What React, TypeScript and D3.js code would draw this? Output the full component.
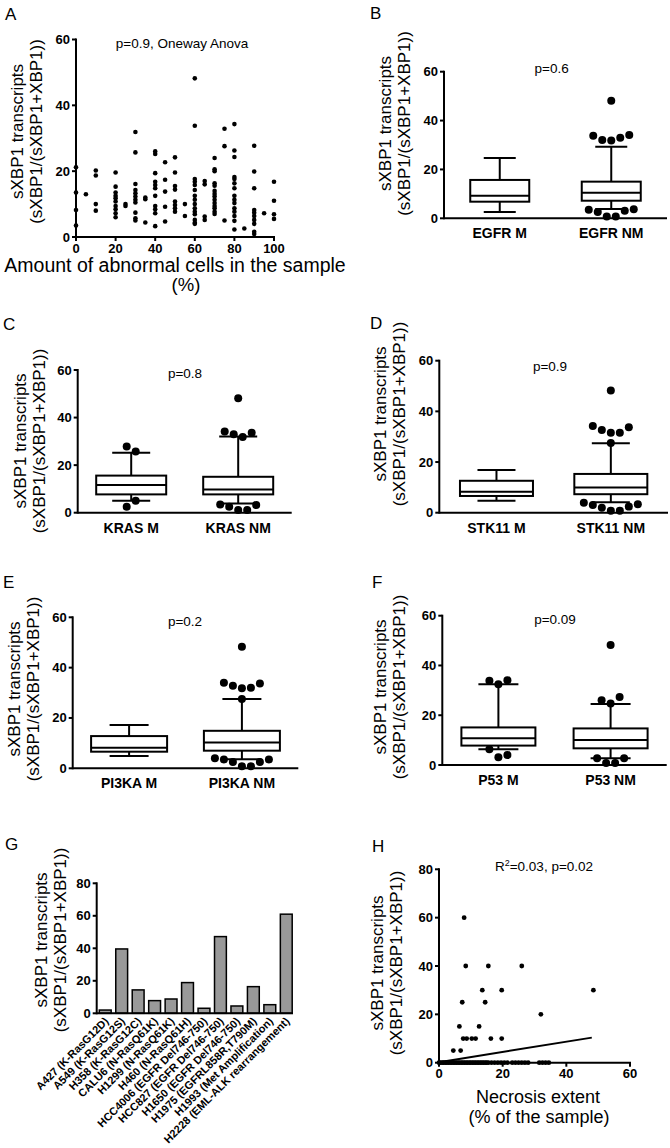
import React from 'react';
import * as d3 from 'd3';

const FONT = "'Liberation Sans', Arial, Helvetica, sans-serif";

// ---------- Panel A: sXBP1 vs amount of abnormal cells ----------
const abnormalPct = [0, 5, 10, 20, 25, 30, 35, 40, 45, 50, 55, 60, 65, 70, 75, 80, 85, 90, 95, 100];
const abnormalSxbp1 = [
  [21.2, 13.5, 8.2, 3.5],
  [13],
  [20.2, 18.7, 10, 8],
  [19.6, 15.3, 13.5, 12.5, 11.8, 10.8, 9.4, 8.4, 7.2, 6],
  [10, 9.4],
  [31.9, 25.7, 16.1, 14.3, 13.3, 12.3, 11.3, 10.5, 7.4, 5.7, 5],
  [12, 11.5, 4.4],
  [26, 25.2, 19.4, 16.8, 15.8, 14.8, 12.5, 9.4, 8.4, 7.2, 3.3],
  [22.7, 17.4, 13.8, 9.2, 4.7],
  [24.2, 19.6, 15.5, 14.4, 10.8, 9.7, 8.7, 7.7],
  [10, 6.4],
  [48.2, 33.8, 17.6, 16.8, 15.8, 14.3, 12.5, 11.3, 10, 8.7, 7.7, 6.9, 5.2, 4.3, 4],
  [17, 16, 6.2, 5.2],
  [24, 20.6, 20, 16.3, 15.6, 14, 13.1, 12.3, 11.3, 10.3, 9.4, 8.7, 7.7, 7],
  [32.9, 27.6, 5],
  [34.3, 26.3, 24.3, 18.2, 17.6, 16.3, 14.8, 12.5, 11.3, 10.3, 8.7, 7.7, 6.4, 4.9, 2.3],
  [2.6],
  [27.7, 19.9, 14.8, 8.2, 7.4, 6.4, 5.2, 4, 1.6, 0.9],
  [7.2],
  [16.8, 11, 6.9, 5.5],
];
const pctTicks = [0, 20, 40, 60, 80, 100];
const sxTicks60 = [0, 20, 40, 60];

// ---------- Box plot panels (B-F) ----------
type Box = { min: number; q1: number; med: number; q3: number; max: number; hi: number[][]; lo: number[][] };

const egfrCats = ['EGFR M', 'EGFR NM'];
const egfrStats: Box[] = [
  { min: 2.6, q1: 6.8, med: 9.2, q3: 15.7, max: 24.7, hi: [], lo: [] },
  { min: 3.8, q1: 7.2, med: 10.5, q3: 15, max: 29.3, hi: [[48.1], [33.8, 32, 31.8, 33, 34.1]], lo: [[3.5, 2.6, 0.7, 0.7, 3.1, 3.7]] },
];
const krasCats = ['KRAS M', 'KRAS NM'];
const krasStats: Box[] = [
  { min: 5, q1: 7.7, med: 11.6, q3: 15.6, max: 25.2, hi: [[27.8, 25.7]], lo: [[2.5, 5]] },
  { min: 3.9, q1: 7.7, med: 9.8, q3: 15.1, max: 32, hi: [[48.1], [34.1, 33, 31.8, 33.6]], lo: [[3.5, 2.5, 1.1, 1.1, 3.2]] },
];
const stk11Cats = ['STK11 M', 'STK11 NM'];
const stk11Stats: Box[] = [
  { min: 4.7, q1: 6.6, med: 8.3, q3: 12.6, max: 16.9, hi: [], lo: [] },
  { min: 4.1, q1: 7.3, med: 9.9, q3: 15.3, max: 27.4, hi: [[48.2], [34.2, 32.6, 31.6, 31.6, 33.7], [27.5]], lo: [[3.9, 3, 2, 0.8, 0.8, 2.4, 3.3]] },
];
const pi3kaCats = ['PI3KA M', 'PI3KA NM'];
const pi3kaStats: Box[] = [
  { min: 4.9, q1: 6.6, med: 8.2, q3: 12.8, max: 17.2, hi: [], lo: [] },
  { min: 3.6, q1: 7, med: 10.3, q3: 14.9, max: 27.5, hi: [[48.3], [34, 32.8, 31.8, 32, 33.7], [27.5]], lo: [[4, 3.5, 2.5, 0.8, 0.8, 2.5, 3.5]] },
];
const p53Cats = ['P53 M', 'P53 NM'];
const p53Stats: Box[] = [
  { min: 6.3, q1: 7.8, med: 10.7, q3: 15.1, max: 32.5, hi: [[33.9, 32.5, 34.1]], lo: [[6.3, 3.1, 4]] },
  { min: 2.7, q1: 6.7, med: 10, q3: 14.7, max: 24.5, hi: [[48.2], [26, 24.7, 27.3]], lo: [[2.7, 0.8, 0.8, 2.7]] },
];

// ---------- Panel G: cell lines ----------
const cellLines = [
  'A427 (K-RasG12D)', 'A549 (K-RasG12S)', 'H358 (K-RasG12C)', 'CALU6 (N-RasQ61K)',
  'H1299 (N-RasQ61K)', 'H460 (N-RasQ61H)', 'HCC4006 (EGFR Del746-750)', 'HCC827 (EGFR Del746-750)',
  'H1650 (EGFR Del746-750)', 'H1975 (EGFRL858R,T790M)', 'H1993 (Met Amplification)', 'H2228 (EML-ALK rearrangement)',
];
const cellLineValues = [2, 39.6, 14.4, 7.8, 8.8, 18.9, 3.1, 47.2, 4.5, 16.4, 5.3, 61];
const sxTicks80 = [0, 20, 40, 60, 80];

// ---------- Panel H: necrosis ----------
const necrosisX = [
  48.5, 32, 26, 15.5, 8.4, 7.9, 13.6, 19.7, 7.3, 14.5, 6.4, 12.6, 7.6, 8.7, 10.3, 11.5, 16.3, 19.7, 4.5, 6.8,
  0, 0.5, 1, 1.5, 2, 2.5, 3, 3.5, 4, 4.5, 5, 5.5, 6, 6.5, 7, 7.5, 8, 8.5, 9, 9.5, 10, 10.5, 11, 11.5, 12, 12.5,
  13, 13.5, 14, 14.5, 15, 15.5, 16.5, 17.5, 18.5, 19.5, 20.5, 21.5, 23, 24, 25, 26, 27, 28, 31.5, 32.5, 33.5, 34.5,
];
const necrosisY = [
  30, 20, 40, 40, 40, 60, 30, 30, 25, 25, 15, 15, 10, 10, 10, 10, 10, 10, 5, 5,
  0, 0, 0, 0, 0, 0, 0, 0, 0, 0, 0, 0, 0, 0, 0, 0, 0, 0, 0, 0, 0, 0, 0, 0, 0, 0,
  0, 0, 0, 0, 0, 0, 0, 0, 0, 0, 0, 0, 0, 0, 0, 0, 0, 0, 0, 0, 0, 0,
];
const fitIntercept = 0.2;
const fitSlope = 0.212;
const fitXRange = [0, 48];
const necrosisTicks = [0, 20, 40, 60];

// ---------- helpers ----------
function YAxis({ x, scale, ticks, bottom }: any) {
  const top = scale(ticks[ticks.length - 1]) - 1;
  return (
    <g>
      <line x1={x} x2={x} y1={top} y2={bottom} stroke="#000" strokeWidth={2} />
      {ticks.map((t: number) => (
        <g key={t}>
          <line x1={x - 4} x2={x} y1={scale(t)} y2={scale(t)} stroke="#000" strokeWidth={2} />
          <text x={x - 6} y={scale(t) + 4.5} textAnchor="end" fontWeight="bold" fontSize={13}>{t}</text>
        </g>
      ))}
    </g>
  );
}

function YTitle({ x1, x2, cy }: any) {
  return (
    <g fontSize={17}>
      <text transform={`translate(${x1 + 4.3},${cy}) rotate(-90)`} textAnchor="middle">sXBP1 transcripts</text>
      <text transform={`translate(${x2 + 4.3},${cy}) rotate(-90)`} textAnchor="middle">(sXBP1/(sXBP1+XBP1))</text>
    </g>
  );
}

function PanelLabel({ t, x, y }: any) {
  return <text x={x} y={y} fontSize={17}>{t}</text>;
}

function BoxPanel({ lay, cats, stats }: any) {
  const y = d3.scaleLinear().domain([0, 60]).range([lay.y0, lay.yTop]);
  const x = d3.scaleBand().domain(cats).range([lay.axX, lay.axR]);
  const bw = lay.boxW;
  const cw = lay.capW;
  return (
    <g>
      <PanelLabel t={lay.label} x={lay.lx} y={lay.ly} />
      <YTitle x1={lay.t1x} x2={lay.t1x + 19} cy={lay.tcy} />
      <text x={lay.px} y={lay.py} textAnchor="middle" fontSize={13.5}>{lay.p}</text>
      <YAxis x={lay.axX} scale={y} ticks={sxTicks60} bottom={lay.y0 + 1} />
      <line x1={lay.axX} x2={lay.axR} y1={lay.y0} y2={lay.y0} stroke="#000" strokeWidth={2} />
      {stats.map((s: Box, i: number) => {
        const cx = (x(cats[i]) as number) + x.bandwidth() / 2;
        return (
          <g key={i}>
            <line x1={cx} x2={cx} y1={y(s.max)} y2={y(s.q3)} stroke="#000" strokeWidth={2} />
            <line x1={cx} x2={cx} y1={y(s.q1)} y2={y(s.min)} stroke="#000" strokeWidth={2} />
            <line x1={cx - cw / 2} x2={cx + cw / 2} y1={y(s.max)} y2={y(s.max)} stroke="#000" strokeWidth={2} />
            <line x1={cx - cw / 2} x2={cx + cw / 2} y1={y(s.min)} y2={y(s.min)} stroke="#000" strokeWidth={2} />
            <rect x={cx - bw / 2} y={y(s.q3)} width={bw} height={y(s.q1) - y(s.q3)} fill="#fff" stroke="#000" strokeWidth={2} />
            <line x1={cx - bw / 2} x2={cx + bw / 2} y1={y(s.med)} y2={y(s.med)} stroke="#000" strokeWidth={2} />
            {[...s.hi, ...s.lo].map((row, r) =>
              row.map((v, j) => (
                <circle key={`${r}-${j}`} cx={cx + (j - (row.length - 1) / 2) * 9} cy={y(v)} r={4} fill="#000" />
              ))
            )}
            <text x={cx} y={lay.y0 + 20} textAnchor="middle" fontWeight="bold" fontSize={14}>{cats[i]}</text>
          </g>
        );
      })}
    </g>
  );
}

const layB = { label: 'B', lx: 370, ly: 18.5, axX: 444, axR: 667, y0: 218.3, yTop: 71.7, t1x: 386.5, tcy: 123.5, p: 'p=0.6', px: 551.7, py: 73, boxW: 59, capW: 32 };
const layC = { label: 'C', lx: 3, ly: 330, axX: 77.7, axR: 291.7, y0: 512.7, yTop: 370, t1x: 22, tcy: 441, p: 'p=0.8', px: 185, py: 378, boxW: 70, capW: 38 };
const layD = { label: 'D', lx: 370, ly: 329, axX: 439.3, axR: 668, y0: 512.7, yTop: 360.7, t1x: 381.5, tcy: 414, p: 'p=0.9', px: 550, py: 371, boxW: 73, capW: 38 };
const layE = { label: 'E', lx: 3, ly: 588, axX: 72.7, axR: 298.3, y0: 768.3, yTop: 617.3, t1x: 16, tcy: 689, p: 'p=0.2', px: 185, py: 625.5, boxW: 76, capW: 39 };
const layF = { label: 'F', lx: 372, ly: 588, axX: 442.3, axR: 666.7, y0: 765, yTop: 615.7, t1x: 381.5, tcy: 687, p: 'p=0.09', px: 555, py: 624, boxW: 74, capW: 40 };

function PanelA() {
  const x = d3.scaleLinear().domain([0, 100]).range([76, 274]);
  const y = d3.scaleLinear().domain([0, 60]).range([237, 39.5]);
  return (
    <g>
      <PanelLabel t="A" x={5} y={20} />
      <YTitle x1={18.5} x2={37.5} cy={131.5} />
      <text x={182} y={47.8} textAnchor="middle" fontSize={13.5}>p=0.9, Oneway Anova</text>
      <YAxis x={76} scale={y} ticks={sxTicks60} bottom={238} />
      <line x1={76} x2={275} y1={237} y2={237} stroke="#000" strokeWidth={2} />
      {pctTicks.map((t) => (
        <g key={t}>
          <line x1={x(t)} x2={x(t)} y1={237} y2={241} stroke="#000" strokeWidth={2} />
          <text x={x(t)} y={252.5} textAnchor="middle" fontWeight="bold" fontSize={13}>{t}</text>
        </g>
      ))}
      {abnormalPct.map((p, i) =>
        abnormalSxbp1[i].map((v, j) => <circle key={`${i}-${j}`} cx={x(p)} cy={y(v)} r={2.3} fill="#000" />)
      )}
      <text x={175} y={271.5} textAnchor="middle" fontSize={19.5}>Amount of abnormal cells in the sample</text>
      <text x={186} y={291} textAnchor="middle" fontSize={18.5}>(%)</text>
    </g>
  );
}

function PanelG() {
  const x = d3.scaleBand().domain(cellLines).range([97, 294.5]).paddingInner(0.28).paddingOuter(0.14);
  const y = d3.scaleLinear().domain([0, 80]).range([1013.3, 883.3]);
  return (
    <g>
      <PanelLabel t="G" x={5} y={850} />
      <YTitle x1={42.5} x2={61.5} cy={940} />
      <YAxis x={96.7} scale={y} ticks={sxTicks80} bottom={1014.3} />
      {cellLines.map((c, i) => (
        <rect key={c} x={x(c)} y={y(cellLineValues[i])} width={x.bandwidth()} height={y(0) - y(cellLineValues[i])}
          fill="#999" stroke="#000" strokeWidth={1.5} />
      ))}
      <line x1={96.7} x2={293} y1={1013.3} y2={1013.3} stroke="#000" strokeWidth={2} />
      {cellLines.map((c) => {
        const cx = (x(c) as number) + x.bandwidth() / 2;
        return (
          <text key={c} transform={`translate(${cx + 4},${1022}) rotate(-45)`} textAnchor="end" fontWeight="bold" fontSize={11}>{c}</text>
        );
      })}
    </g>
  );
}

function PanelH() {
  const x = d3.scaleLinear().domain([0, 60]).range([439, 630]);
  const y = d3.scaleLinear().domain([0, 80]).range([1062.7, 869.3]);
  const fit = d3.line<number>().x((d) => x(d)).y((d) => y(fitIntercept + fitSlope * d));
  return (
    <g>
      <PanelLabel t="H" x={372} y={852} />
      <YTitle x1={379} x2={398} cy={963} />
      <text x={544} y={871} textAnchor="middle" fontSize={13.5}>R<tspan dy={-5} fontSize={9}>2</tspan><tspan dy={5}>=0.03, p=0.02</tspan></text>
      <YAxis x={439} scale={y} ticks={sxTicks80} bottom={1063.7} />
      <line x1={439} x2={631} y1={1062.7} y2={1062.7} stroke="#000" strokeWidth={2} />
      {necrosisTicks.map((t) => (
        <g key={t}>
          <line x1={x(t)} x2={x(t)} y1={1062.7} y2={1066.7} stroke="#000" strokeWidth={2} />
          <text x={x(t)} y={1078} textAnchor="middle" fontWeight="bold" fontSize={13}>{t}</text>
        </g>
      ))}
      {necrosisX.map((v, i) => <circle key={i} cx={x(v)} cy={y(necrosisY[i])} r={2.4} fill="#000" />)}
      <path d={fit(fitXRange) as string} stroke="#000" strokeWidth={2} fill="none" />
      <text x={538} y={1103} textAnchor="middle" fontSize={18}>Necrosis extent</text>
      <text x={539} y={1123} textAnchor="middle" fontSize={18}>(% of the sample)</text>
    </g>
  );
}

export default function App() {
  return (
    <svg width={670} height={1148} style={{ position: 'absolute', left: 0, top: 0, background: '#fff' }}
      fontFamily={FONT} fill="#000">
      <rect width={670} height={1148} fill="#fff" />
      <PanelA />
      <BoxPanel lay={layB} cats={egfrCats} stats={egfrStats} />
      <BoxPanel lay={layC} cats={krasCats} stats={krasStats} />
      <BoxPanel lay={layD} cats={stk11Cats} stats={stk11Stats} />
      <BoxPanel lay={layE} cats={pi3kaCats} stats={pi3kaStats} />
      <BoxPanel lay={layF} cats={p53Cats} stats={p53Stats} />
      <PanelG />
      <PanelH />
    </svg>
  );
}
